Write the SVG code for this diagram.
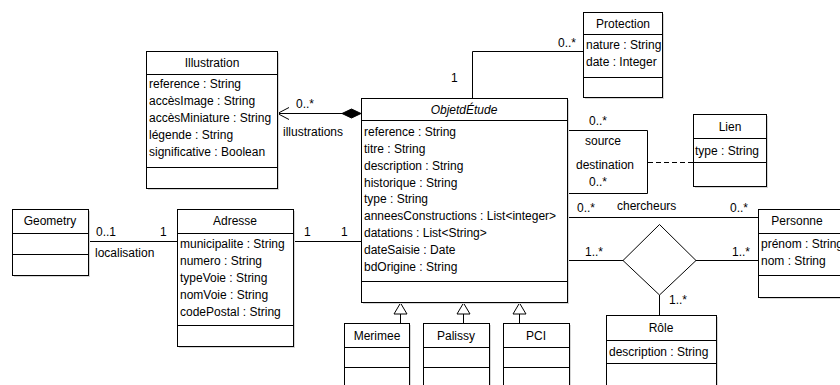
<svg xmlns="http://www.w3.org/2000/svg" width="840" height="385" viewBox="0 0 840 385">
<style>
text{font-family:"Liberation Sans",Arial,sans-serif;font-size:12px;fill:#000}
.c{text-anchor:middle}
.box{fill:#fff;stroke:#000;stroke-width:1}
.sh{fill:#d6d6d6}
.ln{fill:none;stroke:#000;stroke-width:1}
.sep{stroke:#000;stroke-width:1}
.dash{fill:none;stroke:#000;stroke-width:1;stroke-dasharray:5,3}
</style>
<rect width="840" height="385" fill="#fff"/>
<g id="connectors">
  <!-- composition Illustration -->
  <line class="ln" x1="277.5" y1="113.5" x2="343" y2="113.5"/>
  <polyline class="ln" points="289,107.5 277.5,113.5 289,119.5"/>
  <polygon points="342,113.5 351.5,109 361,113.5 351.5,118" fill="#000" stroke="#000"/>
  <text x="296" y="108">0..*</text>
  <text x="283" y="136">illustrations</text>
  <!-- Protection -->
  <polyline class="ln" points="472.5,98 472.5,51.5 583,51.5"/>
  <text x="558" y="47">0..*</text>
  <text x="451" y="82">1</text>
  <!-- self association -->
  <polyline class="ln" points="567.5,130.5 647.5,130.5 647.5,193.5 567.5,193.5"/>
  <text class="c" x="598" y="125">0..*</text>
  <text class="c" x="603" y="145">source</text>
  <text class="c" x="605" y="169">destination</text>
  <text class="c" x="598" y="186">0..*</text>
  <line class="dash" x1="648" y1="162.5" x2="693" y2="162.5"/>
  <!-- Geometry - Adresse -->
  <line class="ln" x1="88" y1="241.5" x2="177" y2="241.5"/>
  <text x="96" y="236">0..1</text>
  <text x="160" y="236">1</text>
  <text x="95" y="257">localisation</text>
  <!-- Adresse - Objet -->
  <line class="ln" x1="293" y1="241.5" x2="361" y2="241.5"/>
  <text x="304" y="236">1</text>
  <text x="341" y="236">1</text>
  <!-- chercheurs -->
  <line class="ln" x1="567" y1="217.5" x2="758" y2="217.5"/>
  <text x="577" y="212">0..*</text>
  <text x="617" y="210">chercheurs</text>
  <text x="730" y="212">0..*</text>
  <!-- n-ary -->
  <line class="ln" x1="567" y1="260.5" x2="623" y2="260.5"/>
  <line class="ln" x1="696" y1="260.5" x2="758" y2="260.5"/>
  <line class="ln" x1="659.5" y1="295" x2="659.5" y2="315"/>
  <polygon points="659.5,224.5 696,260.5 659.5,295 623,260.5" fill="#fff" stroke="#000"/>
  <text x="585" y="256">1..*</text>
  <text x="732" y="256">1..*</text>
  <text x="669" y="304">1..*</text>
  <!-- generalisations -->
  <line class="ln" x1="400.5" y1="314" x2="400.5" y2="323"/>
  <line class="ln" x1="463.5" y1="314" x2="463.5" y2="323"/>
  <line class="ln" x1="519.5" y1="314" x2="519.5" y2="323"/>
  <polygon points="400.5,303 407,314 394,314" fill="#fff" stroke="#000"/>
  <polygon points="463.5,303 470,314 457,314" fill="#fff" stroke="#000"/>
  <polygon points="519.5,303 526,314 513,314" fill="#fff" stroke="#000"/>
</g>
<g id="Illustration">
  <rect class="sh" x="148" y="53" width="131" height="137"/>
  <rect class="box" x="146.5" y="51.5" width="131" height="137"/>
  <line class="sep" x1="146.5" y1="74.5" x2="277.5" y2="74.5"/>
  <line class="sep" x1="146.5" y1="167.5" x2="277.5" y2="167.5"/>
  <text class="c" x="212" y="67">Illustration</text>
  <text x="149" y="88">reference : String</text>
  <text x="149" y="105">accèsImage : String</text>
  <text x="149" y="122">accèsMiniature : String</text>
  <text x="149" y="139">légende : String</text>
  <text x="149" y="156">significative : Boolean</text>
</g>
<g id="ObjetdEtude">
  <rect class="sh" x="363" y="100" width="206" height="204"/>
  <rect class="box" x="361.5" y="98.5" width="206" height="204"/>
  <line class="sep" x1="361.5" y1="120.5" x2="567.5" y2="120.5"/>
  <line class="sep" x1="361.5" y1="281.5" x2="567.5" y2="281.5"/>
  <text class="c" x="464" y="114" font-style="italic">ObjetdÉtude</text>
  <text x="364" y="136">reference : String</text>
  <text x="364" y="153">titre : String</text>
  <text x="364" y="170">description : String</text>
  <text x="364" y="187">historique : String</text>
  <text x="364" y="203">type : String</text>
  <text x="364" y="220">anneesConstructions : List&lt;integer&gt;</text>
  <text x="364" y="237">datations : List&lt;String&gt;</text>
  <text x="364" y="254">dateSaisie : Date</text>
  <text x="364" y="271">bdOrigine : String</text>
</g>
<g id="Protection">
  <rect class="sh" x="585" y="14" width="79" height="85"/>
  <rect class="box" x="583.5" y="12.5" width="79" height="85"/>
  <line class="sep" x1="583.5" y1="34.5" x2="662.5" y2="34.5"/>
  <line class="sep" x1="583.5" y1="77.5" x2="662.5" y2="77.5"/>
  <text class="c" x="623" y="28">Protection</text>
  <text x="586" y="49">nature : String</text>
  <text x="586" y="66">date : Integer</text>
</g>
<g id="Lien">
  <rect class="sh" x="695" y="116" width="73" height="72"/>
  <rect class="box" x="693.5" y="114.5" width="73" height="72"/>
  <line class="sep" x1="693.5" y1="138.5" x2="766.5" y2="138.5"/>
  <line class="sep" x1="693.5" y1="162.5" x2="766.5" y2="162.5"/>
  <text class="c" x="730" y="131">Lien</text>
  <text x="695" y="155">type : String</text>
</g>
<g id="Geometry">
  <rect class="sh" x="14" y="211" width="76" height="66"/>
  <rect class="box" x="12.5" y="209.5" width="76" height="66"/>
  <line class="sep" x1="12.5" y1="233.5" x2="88.5" y2="233.5"/>
  <line class="sep" x1="12.5" y1="254.5" x2="88.5" y2="254.5"/>
  <text class="c" x="50" y="225">Geometry</text>
</g>
<g id="Adresse">
  <rect class="sh" x="179" y="211" width="116" height="137"/>
  <rect class="box" x="177.5" y="209.5" width="116" height="137"/>
  <line class="sep" x1="177.5" y1="233.5" x2="293.5" y2="233.5"/>
  <line class="sep" x1="177.5" y1="325.5" x2="293.5" y2="325.5"/>
  <text class="c" x="235" y="225">Adresse</text>
  <text x="180" y="248">municipalite : String</text>
  <text x="180" y="265">numero : String</text>
  <text x="180" y="282">typeVoie : String</text>
  <text x="180" y="299">nomVoie : String</text>
  <text x="180" y="316">codePostal : String</text>
</g>
<g id="Personne">
  <rect class="sh" x="760" y="211" width="90" height="88"/>
  <rect class="box" x="758.5" y="209.5" width="90" height="88"/>
  <line class="sep" x1="758.5" y1="233.5" x2="848" y2="233.5"/>
  <line class="sep" x1="758.5" y1="275.5" x2="848" y2="275.5"/>
  <text class="c" x="797" y="225">Personne</text>
  <text x="761" y="248">prénom : String</text>
  <text x="761" y="265">nom : String</text>
</g>
<g id="Role">
  <rect class="sh" x="608" y="317" width="110" height="80"/>
  <rect class="box" x="606.5" y="315.5" width="110" height="80"/>
  <line class="sep" x1="606.5" y1="340.5" x2="716.5" y2="340.5"/>
  <line class="sep" x1="606.5" y1="363.5" x2="716.5" y2="363.5"/>
  <text class="c" x="661" y="332">Rôle</text>
  <text x="609" y="356">description : String</text>
</g>
<g id="Merimee">
  <rect class="sh" x="346" y="325" width="65" height="70"/>
  <rect class="box" x="344.5" y="323.5" width="65" height="70"/>
  <line class="sep" x1="344.5" y1="347.5" x2="409.5" y2="347.5"/>
  <line class="sep" x1="344.5" y1="367.5" x2="409.5" y2="367.5"/>
  <text class="c" x="377" y="340">Merimee</text>
</g>
<g id="Palissy">
  <rect class="sh" x="425" y="325" width="66" height="70"/>
  <rect class="box" x="423.5" y="323.5" width="66" height="70"/>
  <line class="sep" x1="423.5" y1="347.5" x2="489.5" y2="347.5"/>
  <line class="sep" x1="423.5" y1="367.5" x2="489.5" y2="367.5"/>
  <text class="c" x="456" y="340">Palissy</text>
</g>
<g id="PCI">
  <rect class="sh" x="505" y="325" width="66" height="70"/>
  <rect class="box" x="503.5" y="323.5" width="66" height="70"/>
  <line class="sep" x1="503.5" y1="347.5" x2="569.5" y2="347.5"/>
  <line class="sep" x1="503.5" y1="367.5" x2="569.5" y2="367.5"/>
  <text class="c" x="536" y="340">PCI</text>
</g>
</svg>
